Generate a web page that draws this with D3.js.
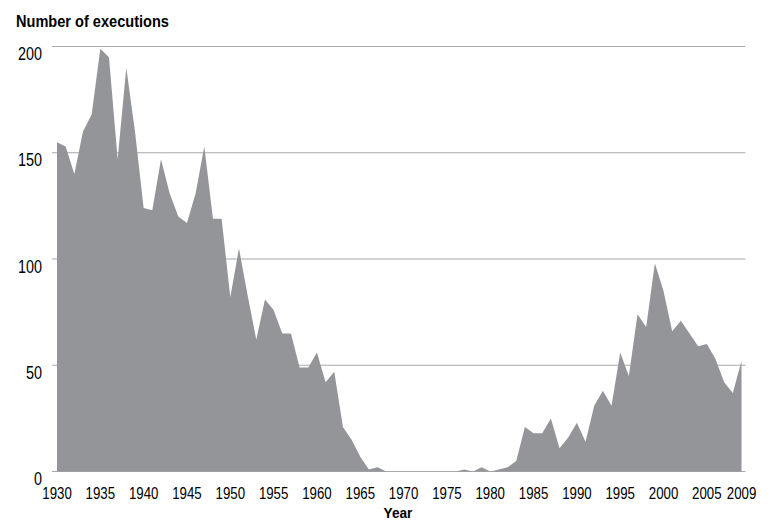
<!DOCTYPE html>
<html>
<head>
<meta charset="utf-8">
<script src="https://cdn.jsdelivr.net/npm/d3@7"></script>
<style>
  html, body { margin: 0; padding: 0; background: #fff; }
  svg { display: block; }
  text { font-family: "Liberation Sans", Arial, sans-serif; fill: #000; }
</style>
</head>
<body>
<svg id="chart" width="775" height="524"></svg>
<script>
const years = d3.range(1930, 2010);
const executions = [
  155, 153, 140, 160, 168, 199, 195, 147, 190, 160,
  124, 123, 147, 131, 120, 117, 131, 153, 119, 119,
  82, 105, 83, 62, 81, 76, 65, 65, 49, 49,
  56, 42, 47, 21, 15, 7, 1, 2, 0, 0,
  0, 0, 0, 0, 0, 0, 0, 1, 0, 2,
  0, 1, 2, 5, 21, 18, 18, 25, 11, 16,
  23, 14, 31, 38, 31, 56, 45, 74, 68, 98,
  85, 66, 71, 65, 59, 60, 53, 42, 37, 52
];
const xTicks = [1930, 1935, 1940, 1945, 1950, 1955, 1960, 1965, 1970, 1975, 1980, 1985, 1990, 1995, 2000, 2005, 2009];
const yTicks = [0, 50, 100, 150, 200];
const yTitle = "Number of executions";
const xTitle = "Year";

const data = years.map((y, i) => ({ year: y, value: executions[i] }));

const svg = d3.select("#chart");
const x = d3.scaleLinear().domain([1930, 2009]).range([57, 741.5]);
const y = d3.scaleLinear().domain([0, 200]).range([471.5, 46.5]);

// place a horizontally condensed text
function condensedText(g, px, py, str, opts) {
  const t = g.append("text")
    .attr("transform", `translate(${px},${py}) scale(${opts.sx},1)`)
    .attr("text-anchor", opts.anchor || "start")
    .attr("font-size", opts.size)
    .attr("font-weight", opts.weight || "normal")
    .text(str);
  return t;
}

// gridlines
svg.append("g")
  .selectAll("line")
  .data(yTicks)
  .join("line")
  .attr("x1", 52).attr("x2", 745.5)
  .attr("y1", d => y(d)).attr("y2", d => y(d))
  .attr("stroke", "#a7a9ac")
  .attr("stroke-width", 1.2);

// area
const area = d3.area()
  .x(d => x(d.year))
  .y0(y(0))
  .y1(d => y(d.value));
svg.append("path")
  .datum(data)
  .attr("d", area)
  .attr("fill", "#939598");

// y tick labels
const gy = svg.append("g");
yTicks.forEach(d => {
  condensedText(gy, 42, y(d) + 13.5, String(d), { sx: 0.8, size: 18, anchor: "end" });
});

// x tick labels
const gx = svg.append("g");
xTicks.forEach(d => {
  condensedText(gx, x(d), 499, String(d), { sx: 0.78, size: 17, anchor: "middle" });
});

// titles
const title = condensedText(svg, 16, 27, yTitle, { sx: 1, size: 16, weight: "bold" });
const len = title.node().getComputedTextLength();
const bsx = len > 0 ? 153 / len : 0.85;
title.attr("transform", `translate(16,27) scale(${bsx},1)`);

condensedText(svg, 398, 517.5, xTitle, { sx: bsx, size: 15, weight: "bold", anchor: "middle" });
</script>
</body>
</html>
